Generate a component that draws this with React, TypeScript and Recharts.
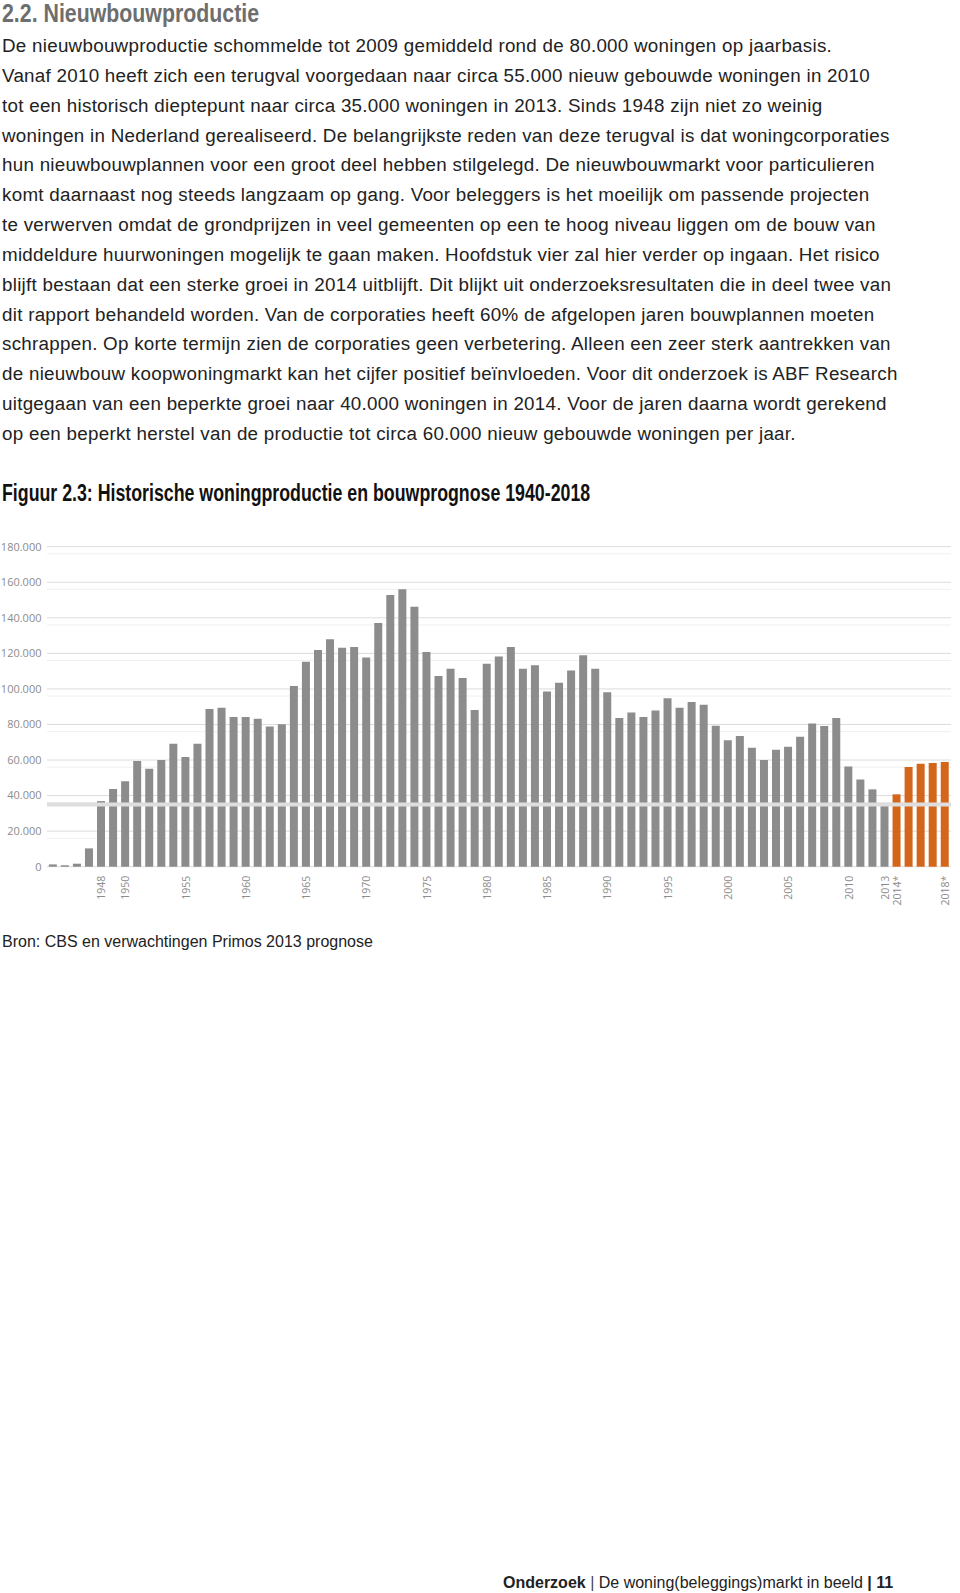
import { BarChart, Bar, XAxis, YAxis, CartesianGrid, ReferenceLine } from 'recharts'

// jaren 1944 t/m 2018
const years = [
  '1944', '1945', '1946', '1947', '1948', '1949', '1950', '1951', '1952', '1953',
  '1954', '1955', '1956', '1957', '1958', '1959', '1960', '1961', '1962', '1963',
  '1964', '1965', '1966', '1967', '1968', '1969', '1970', '1971', '1972', '1973',
  '1974', '1975', '1976', '1977', '1978', '1979', '1980', '1981', '1982', '1983',
  '1984', '1985', '1986', '1987', '1988', '1989', '1990', '1991', '1992', '1993',
  '1994', '1995', '1996', '1997', '1998', '1999', '2000', '2001', '2002', '2003',
  '2004', '2005', '2006', '2007', '2008', '2009', '2010', '2011', '2012', '2013',
  '2014', '2015', '2016', '2017', '2018',
]

// gerealiseerd 1944-2013
const realised = [
  1300, 800, 1700, 10300, 36900, 43700, 48000, 59400, 55100, 60000,
  69200, 61700, 69200, 88700, 89400, 84200, 84200, 83200, 78900, 80100,
  101600, 115300, 121900, 127900, 123200, 123600, 117700, 137100, 152800, 156000,
  146200, 120700, 107200, 111400, 106100, 88100, 114200, 118300, 123600, 111400,
  113300, 98600, 103500, 110300, 118900, 111400, 98100, 83600, 86800, 84200,
  87900, 94700, 89400, 92600, 91100, 79300, 71100, 73500, 66900, 60000,
  65800, 67500, 73100, 80600, 79100, 83600, 56400, 49100, 43500, 34700,
]

// prognose 2014-2018
const forecast = [40700, 56100, 57900, 58300, 58900]

// as-labels
const tickLabels: Record<string, string> = {
  '1948': '1948', '1950': '1950', '1955': '1955', '1960': '1960', '1965': '1965',
  '1970': '1970', '1975': '1975', '1980': '1980', '1985': '1985', '1990': '1990',
  '1995': '1995', '2000': '2000', '2005': '2005', '2010': '2010', '2013': '2013',
  '2014': '2014*', '2018': '2018*',
}

const yTicks = [0, 20000, 40000, 60000, 80000, 100000, 120000, 140000, 160000, 180000]
const minorTicks = Array.from({ length: 46 }, (_, i) => i * 4000).filter((v) => v % 20000 !== 0)

const lowLine = 35000

const data = years.map((year, i) => ({
  year,
  realised: i < realised.length ? realised[i] : null,
  forecast: i >= realised.length ? forecast[i - realised.length] : null,
}))

const fmt = (v: number) => (v === 0 ? '0' : v.toLocaleString('nl-NL'))

function YearTick(props: any) {
  const { x, y, payload } = props
  const label = tickLabels[payload.value]
  if (!label) return null
  return (
    <text
      transform={`translate(${x + 4},${y + 1}) rotate(-90)`}
      textAnchor="end"
      fontSize={10.5}
      fontFamily="Open Sans"
      fill="#8c8c8c"
    >
      {label}
    </text>
  )
}

const body = {
  fontFamily: '"Liberation Sans", Arial, sans-serif',
  fontSize: 18.8,
  letterSpacing: 0.27,
  color: '#222',
}

const condensed = {
  position: 'absolute' as const,
  left: 2,
  fontFamily: '"Liberation Sans", Arial, sans-serif',
  fontWeight: 700,
  whiteSpace: 'nowrap' as const,
  transformOrigin: 'left center',
}

const paragraph = [
  'De nieuwbouwproductie schommelde tot 2009 gemiddeld rond de 80.000 woningen op jaarbasis.',
  'Vanaf 2010 heeft zich een terugval voorgedaan naar circa 55.000 nieuw gebouwde woningen in 2010',
  'tot een historisch dieptepunt naar circa 35.000 woningen in 2013. Sinds 1948 zijn niet zo weinig',
  'woningen in Nederland gerealiseerd. De belangrijkste reden van deze terugval is dat woningcorporaties',
  'hun nieuwbouwplannen voor een groot deel hebben stilgelegd. De nieuwbouwmarkt voor particulieren',
  'komt daarnaast nog steeds langzaam op gang. Voor beleggers is het moeilijk om passende projecten',
  'te verwerven omdat de grondprijzen in veel gemeenten op een te hoog niveau liggen om de bouw van',
  'middeldure huurwoningen mogelijk te gaan maken. Hoofdstuk vier zal hier verder op ingaan. Het risico',
  'blijft bestaan dat een sterke groei in 2014 uitblijft. Dit blijkt uit onderzoeksresultaten die in deel twee van',
  'dit rapport behandeld worden. Van de corporaties heeft 60% de afgelopen jaren bouwplannen moeten',
  'schrappen. Op korte termijn zien de corporaties geen verbetering. Alleen een zeer sterk aantrekken van',
  'de nieuwbouw koopwoningmarkt kan het cijfer positief beïnvloeden. Voor dit onderzoek is ABF Research',
  'uitgegaan van een beperkte groei naar 40.000 woningen in 2014. Voor de jaren daarna wordt gerekend',
  'op een beperkt herstel van de productie tot circa 60.000 nieuw gebouwde woningen per jaar.',
]

export default function App() {
  return (
    <div style={{ position: 'relative', width: 960, height: 1593, background: '#fff' }}>
      <style>{'body{margin:0}'}</style>
      <div style={{ ...condensed, top: -2, fontSize: 26, color: '#6e6e6e', transform: 'scaleX(0.82)' }}>
        2.2. Nieuwbouwproductie
      </div>
      <div style={{ position: 'absolute', left: 2, top: 31, ...body, lineHeight: '29.85px' }}>
        {paragraph.map((line, i) => (
          <div key={i} style={{ whiteSpace: 'nowrap' }}>{line}</div>
        ))}
      </div>
      <div style={{ ...condensed, top: 479, fontSize: 24, color: '#111', transform: 'scaleX(0.74)' }}>
        Figuur 2.3: Historische woningproductie en bouwprognose 1940-2018
      </div>

      <div style={{ position: 'absolute', left: 0, top: 520 }}>
        <BarChart
          width={960}
          height={390}
          data={data}
          margin={{ top: 26.7, right: 9, left: 0, bottom: 0 }}
          barCategoryGap="15%"
        >
          <CartesianGrid horizontal vertical={false} horizontalValues={minorTicks} stroke="#f0f0f0" />
          <CartesianGrid horizontal vertical={false} horizontalValues={yTicks} stroke="#dcdcdc" />
          <XAxis
            dataKey="year"
            interval={0}
            height={43.3}
            axisLine={false}
            tickLine={false}
            tick={<YearTick />}
          />
          <YAxis
            width={47}
            domain={[0, 180000]}
            ticks={yTicks}
            tickFormatter={fmt}
            axisLine={false}
            tickLine={false}
            tickSize={4}
            tickMargin={1.5}
            tick={{ fontSize: 11, fontFamily: 'Open Sans', fill: '#8c8c8c' }}
          />
          <Bar dataKey="realised" stackId="a" fill="#8c8c8c" isAnimationActive={false} />
          <Bar dataKey="forecast" stackId="a" fill="#d4661c" isAnimationActive={false} />
          <ReferenceLine y={lowLine} stroke="#dedede" strokeWidth={4} />
        </BarChart>
      </div>

      <div style={{ position: 'absolute', left: 2, top: 933, ...body, fontSize: 16, letterSpacing: 0 }}>
        Bron: CBS en verwachtingen Primos 2013 prognose
      </div>

      <div
        style={{
          position: 'absolute', left: 503, top: 1574, ...body, fontSize: 16, letterSpacing: 0,
          whiteSpace: 'nowrap',
        }}
      >
        <b>Onderzoek</b> <span style={{ color: '#444' }}>|</span> De woning(beleggings)markt in beeld{' '}
        <b>| 11</b>
      </div>
    </div>
  )
}
